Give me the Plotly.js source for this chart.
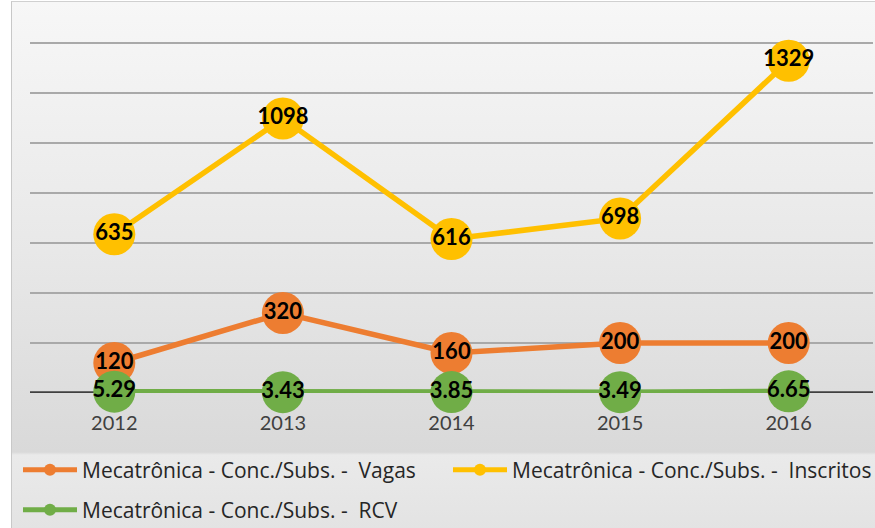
<!DOCTYPE html>
<html>
<head>
<meta charset="utf-8">
<script src="https://cdn.plot.ly/plotly-3.0.1.min.js"></script>
<style>
  html, body { margin: 0; padding: 0; background: #ffffff; }
  #wrap { position: relative; width: 875px; height: 528px; overflow: hidden; }
  #bg { position: absolute; left: 11px; top: 1px; width: 864px; height: 527px;
        border-left: 1px solid #c8c8c8; border-top: 1px solid #d0d0d0;
        background: linear-gradient(to bottom, #f7f7f7 0px, #e8e8e8 250px, #d9d9d9 450px, #eaeaea 453px, #e3e3e3 527px); }
  #chart { position: absolute; left: 0; top: 0; width: 875px; height: 528px; }
</style>
</head>
<body>
<div id="wrap"><div id="bg"></div><div id="chart"></div></div>
<script>
const years = ['2012', '2013', '2014', '2015', '2016'];
const vagas = [120, 320, 160, 200, 200];
const inscritos = [635, 1098, 616, 698, 1329];
const rcv = [5.29, 3.43, 3.85, 3.49, 6.65];
const gridVals = [200, 400, 600, 800, 1000, 1200, 1400];
const names = [
  'Mecatrônica - Conc./Subs. -  Vagas',
  'Mecatrônica - Conc./Subs. -  Inscritos',
  'Mecatrônica - Conc./Subs. -  RCV'
];
const colors = ['#ED7D31', '#FFC000', '#70AD47'];

function mk(y, name, color, labels, legendId) {
  return {
    x: years, y: y, name: name, type: 'scatter', mode: 'lines+markers+text',
    line: {color: color, width: 5.5},
    marker: {color: color, size: 42},
    text: labels, textposition: 'middle center',
    textfont: {family: 'Lato, Carlito, sans-serif', size: 22, color: '#000000', weight: 'bold'},
    cliponaxis: false, hoverinfo: 'x+y', legend: legendId
  };
}
const data = [
  mk(vagas, names[0], colors[0], vagas.map(String), 'legend'),
  mk(inscritos, names[1], colors[1], inscritos.map(String), 'legend2'),
  mk(rcv, names[2], colors[2], rcv.map(v => v.toFixed(2)), 'legend3')
];
function leg(x, yPx) {
  return {orientation: 'h', xref: 'container', yref: 'container',
          x: x / 875, xanchor: 'left', y: 1 - yPx / 528, yanchor: 'middle',
          itemwidth: 54, itemsizing: 'constant',
          font: {family: '"Open Sans", sans-serif', size: 21, color: '#262626'},
          bgcolor: 'rgba(0,0,0,0)', borderwidth: 0};
}
const layout = {
  width: 875, height: 528,
  margin: {l: 30, r: 2, t: 40, b: 135},
  paper_bgcolor: 'rgba(0,0,0,0)', plot_bgcolor: 'rgba(0,0,0,0)',
  font: {family: 'Lato, Carlito, sans-serif', color: '#404040'},
  showlegend: true,
  legend: leg(18, 470),
  legend2: leg(448, 470),
  legend3: leg(18, 510),
  xaxis: {type: 'category', range: [-0.5, 4.5], showgrid: false, zeroline: false,
          showline: false, ticks: 'outside', ticklen: 12, tickcolor: 'rgba(0,0,0,0)',
          tickfont: {size: 20, color: '#404040'}, automargin: false},
  yaxis: {range: [0, 1412], tickvals: gridVals,
          showticklabels: false, showgrid: true, gridcolor: '#a9a9a9', gridwidth: 2,
          zeroline: false, showline: false, fixedrange: true, automargin: false},
  shapes: [{type: 'line', xref: 'paper', yref: 'y', x0: 0, x1: 1, y0: 0, y1: 0,
            line: {color: '#404040', width: 3.5}, layer: 'between'}]
};
Plotly.newPlot('chart', data, layout, {displayModeBar: false, staticPlot: true});
</script>
</body>
</html>
